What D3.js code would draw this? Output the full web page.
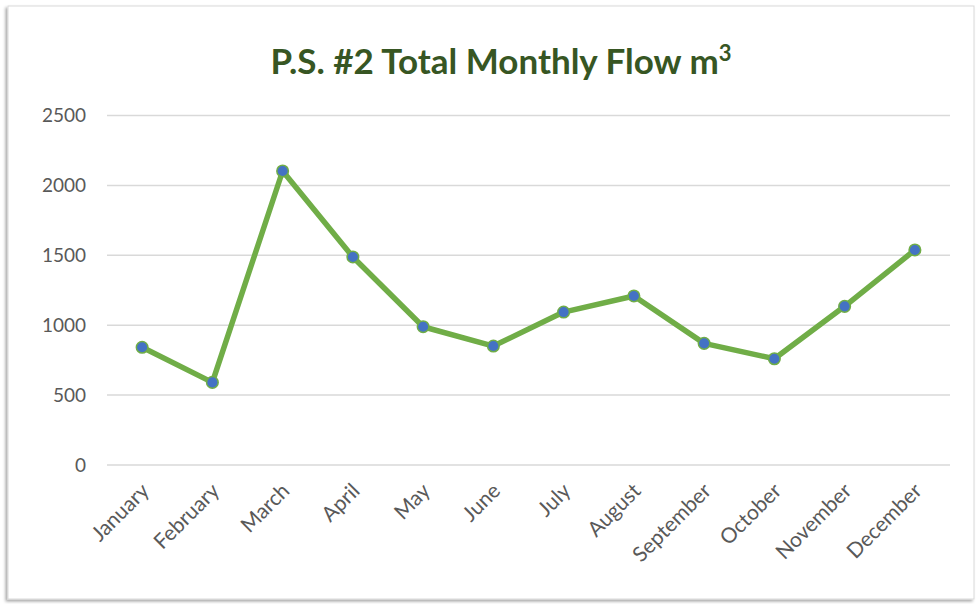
<!DOCTYPE html>
<html>
<head>
<meta charset="utf-8">
<script src="https://d3js.org/d3.v7.min.js"></script>
<style>
  body { margin: 0; background: #fff; }
  svg { display: block; }
  text { font-family: Lato, "Open Sans", sans-serif; }
</style>
</head>
<body>
<script>
  // data
  var months = ['January', 'February', 'March', 'April', 'May', 'June',
    'July', 'August', 'September', 'October', 'November', 'December'];
  var flow = [842, 591, 2103, 1488, 989, 851, 1094, 1209, 870, 760, 1135, 1538];
  var yTicks = [0, 500, 1000, 1500, 2000, 2500];

  var width = 978, height = 604;
  var plotLeft = 107, plotRight = 950, plotTop = 115.5, plotBottom = 465;

  var svg = d3.select('body').append('svg')
    .attr('width', width)
    .attr('height', height);

  var defs = svg.append('defs');
  var f = defs.append('filter').attr('id', 'shadow')
    .attr('x', '-5%').attr('y', '-5%').attr('width', '110%').attr('height', '110%');
  f.append('feDropShadow').attr('dx', -2).attr('dy', 2).attr('stdDeviation', 1.5)
    .attr('flood-color', '#000').attr('flood-opacity', 0.35);

  // chart frame
  svg.append('rect')
    .attr('x', 8).attr('y', 6)
    .attr('width', 966).attr('height', 593)
    .attr('fill', '#fff')
    .attr('stroke', '#d9d9d9')
    .attr('stroke-width', 1)
    .attr('filter', 'url(#shadow)');

  // scales
  var x = d3.scaleBand().domain(months).range([plotLeft, plotRight]);
  var y = d3.scaleLinear().domain([0, 2500]).range([plotBottom, plotTop]);

  // gridlines
  svg.append('g').selectAll('line')
    .data(yTicks)
    .enter().append('line')
    .attr('x1', plotLeft).attr('x2', plotRight)
    .attr('y1', function(d) { return y(d); })
    .attr('y2', function(d) { return y(d); })
    .attr('stroke', '#d9d9d9')
    .attr('stroke-width', 1.5);

  // y axis labels
  var yAxis = svg.append('g')
    .attr('transform', 'translate(' + (plotLeft - 21) + ',0)')
    .call(d3.axisLeft(y).tickValues(yTicks).tickFormat(d3.format('d')).tickSize(0).tickPadding(0));
  yAxis.select('.domain').remove();
  yAxis.selectAll('text')
    .attr('fill', '#595959')
    .style('font-size', '19px')
    .style('font-family', 'Lato, "Open Sans", sans-serif');

  // x axis labels
  var xAxis = svg.append('g')
    .attr('transform', 'translate(0,' + (plotBottom + 22) + ')')
    .call(d3.axisBottom(x).tickSize(0).tickPadding(0));
  xAxis.select('.domain').remove();
  xAxis.selectAll('text')
    .attr('fill', '#595959')
    .style('font-size', '21px')
    .style('font-family', 'Lato, "Open Sans", sans-serif')
    .attr('text-anchor', 'end')
    .attr('dy', '0.35em')
    .attr('transform', 'translate(3,0) rotate(-45)');

  // line
  var line = d3.line()
    .x(function(d, i) { return x(months[i]) + x.bandwidth() / 2; })
    .y(function(d) { return y(d); });

  svg.append('path')
    .datum(flow)
    .attr('d', line)
    .attr('fill', 'none')
    .attr('stroke', '#70ad47')
    .attr('stroke-width', 5.5)
    .attr('stroke-linejoin', 'round')
    .attr('stroke-linecap', 'round');

  svg.append('g').selectAll('circle')
    .data(flow)
    .enter().append('circle')
    .attr('cx', function(d, i) { return x(months[i]) + x.bandwidth() / 2; })
    .attr('cy', function(d) { return y(d); })
    .attr('r', 5.8)
    .attr('fill', '#4472c4')
    .attr('stroke', '#70ad47')
    .attr('stroke-width', 1.5);

  // title
  var title = svg.append('text')
    .attr('x', 501)
    .attr('y', 74)
    .attr('text-anchor', 'middle')
    .attr('fill', '#375623')
    .style('font-size', '35px')
    .style('font-weight', 'bold');
  title.append('tspan').text('P.S. #2 Total Monthly Flow m');
  title.append('tspan').text('3')
    .style('font-size', '22px')
    .attr('dy', '-13');
</script>
</body>
</html>
